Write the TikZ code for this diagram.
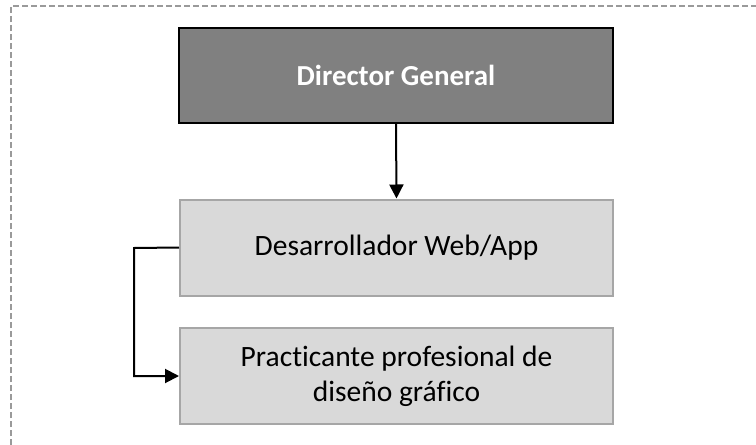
\documentclass[tikz,border=0pt]{standalone}
\usepackage{fontspec}
\setmainfont[Ligatures=NoCommon]{Carlito}
\usetikzlibrary{arrows.meta}
\begin{document}
\begin{tikzpicture}[x=1pt,y=-1pt,
  topbox/.style={draw=black,line width=2pt,fill=gray50,minimum width=434pt,minimum height=95pt,inner sep=0pt,text=white,font=\fontsize{29}{34}\selectfont\bfseries},
  subbox/.style={draw=gray65,line width=2pt,fill=gray85,minimum width=433pt,minimum height=96pt,inner sep=0pt,align=center,font=\fontsize{29.5}{35}\selectfont},
  conn/.style={draw=black,line width=2pt,-{Triangle[length=14pt,width=14pt]}}
]
\definecolor{gray50}{HTML}{808080}
\definecolor{gray65}{HTML}{A6A6A6}
\definecolor{gray85}{HTML}{D9D9D9}
\definecolor{dashgray}{HTML}{9A9A9A}
\useasboundingbox (0,0) rectangle (756,445);
\draw[dashgray,line width=1.2pt,dash pattern=on 6pt off 3pt] (11,445) -- (11,6) -- (756,6);
\node[topbox] (dir) at (396,75.5) {Director General};
\node[subbox] (dev) at (396.5,247.5) {Desarrollador Web/App};
\node[subbox] (pra) at (396.5,376) {Practicante profesional de\\diseño gráfico};
\coordinate (c1) at (134,248);
\draw[conn] (dir.south) -- (dev.north);
\draw[conn] (dev.west) -- (c1) |- (pra.west);
\end{tikzpicture}
\end{document}
